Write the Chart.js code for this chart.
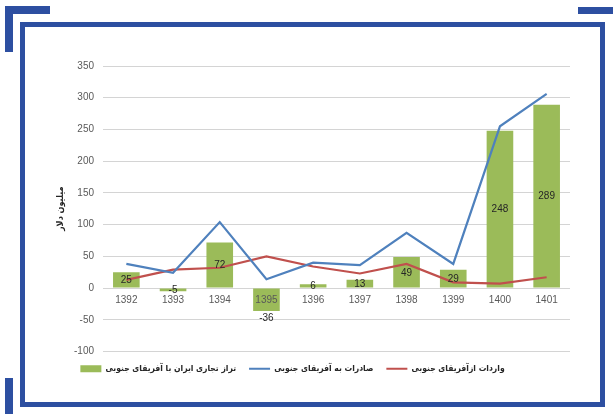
<!DOCTYPE html>
<html>
<head>
<meta charset="utf-8">
<script src="https://cdn.jsdelivr.net/npm/chart.js@4"></script>
<style>
  html, body { margin: 0; padding: 0; background: #ffffff; }
  #page { position: relative; width: 613px; height: 414px; overflow: hidden; background: #fff; }
  .bar { position: absolute; background: #2D4FA1; }
  #frame { position: absolute; left: 20px; top: 22px; width: 575px; height: 375px;
           border: 5px solid #2D4FA1; }
  canvas { position: absolute; left: 0; top: 0; }
</style>
</head>
<body>
<div id="page">
  <div id="frame"></div>
  <div class="bar" style="left:5px;top:6px;width:45px;height:8px"></div>
  <div class="bar" style="left:5px;top:6px;width:8px;height:46px"></div>
  <div class="bar" style="left:578px;top:7px;width:35px;height:7px"></div>
  <div class="bar" style="left:5px;top:378px;width:8px;height:36px"></div>
  <canvas id="chart" width="613" height="414"></canvas>
</div>
<script>
// Solar years (Iranian calendar)
const years = ['1392', '1393', '1394', '1395', '1396', '1397', '1398', '1399', '1400', '1401'];
// Trade balance of Iran with South Africa (million USD)
const tradeBalance = [25, -5, 72, -36, 6, 13, 49, 29, 248, 289];
// Exports to South Africa (million USD)
const exportsToSA = [38, 24, 104, 14, 40, 36, 87, 38, 255, 306];
// Imports from South Africa (million USD)
const importsFromSA = [13, 29, 32, 50, 34, 23, 38, 9, 7, 17];

const seriesNames = ['تراز تجاری ایران با آفریقای جنوبی', 'صادرات به آفریقای جنوبی', 'واردات ازآفریقای جنوبی'];
const yTitle = 'میلیون دلار';

const GREEN = '#9BBB59', BLUE = '#4F81BD', RED = '#C0504D';
const TICK_FONT = { family: "'Liberation Sans', Arial, sans-serif", size: 10 };
const FA_FONT = "'DejaVu Sans Condensed', 'DejaVu Sans', sans-serif";

// Value labels centred in each bar; long negative bars get theirs beneath the bar end
const barLabels = {
  id: 'barLabels',
  afterDatasetsDraw(chart) {
    const ctx = chart.ctx;
    const meta = chart.getDatasetMeta(0);
    ctx.save();
    ctx.direction = 'ltr';
    ctx.font = "10px 'Liberation Sans', Arial, sans-serif";
    ctx.fillStyle = '#262626';
    ctx.textAlign = 'center';
    meta.data.forEach((el, i) => {
      const v = tradeBalance[i];
      const len = Math.abs(el.base - el.y);
      if (v < 0 && len > 15) {
        ctx.textBaseline = 'top';
        ctx.fillText(String(v), el.x, el.y + 2);
      } else {
        ctx.textBaseline = 'middle';
        ctx.fillText(String(v), el.x, (el.y + el.base) / 2 + 0.5);
      }
    });
    ctx.restore();
  }
};

new Chart(document.getElementById('chart'), {
  data: {
    labels: years,
    datasets: [
      { type: 'bar', label: seriesNames[0], data: tradeBalance, backgroundColor: GREEN,
        barPercentage: 0.57, categoryPercentage: 1, order: 3 },
      { type: 'line', label: seriesNames[1], data: exportsToSA, borderColor: BLUE, backgroundColor: BLUE,
        borderWidth: 2.2, pointRadius: 0, tension: 0, order: 1 },
      { type: 'line', label: seriesNames[2], data: importsFromSA, borderColor: RED, backgroundColor: RED,
        borderWidth: 2.2, pointRadius: 0, tension: 0, order: 2 }
    ]
  },
  options: {
    responsive: false,
    animation: false,
    // left padding kept small so the legend row sits left of the plot centre
    layout: { padding: { left: 15, right: 43, top: 66, bottom: 31 } },
    scales: {
      x: {
        position: { y: 0 },
        grid: { display: false, drawTicks: false },
        border: { display: false },
        // year labels drawn above the bars
        ticks: { color: '#595959', font: TICK_FONT, padding: 6, maxRotation: 0, z: 1 }
      },
      y: {
        min: -100, max: 350,
        ticks: { stepSize: 50, color: '#595959', font: TICK_FONT, padding: 9 },
        grid: { color: '#D4D4D4', lineWidth: 1, drawTicks: false },
        border: { display: false },
        title: { display: true, text: yTitle, color: '#262626', padding: { top: 40, bottom: 0 },
                 font: { family: FA_FONT, size: 9, weight: 'bold' } },
        afterFit(scale) { scale.width = 88; }
      }
    },
    plugins: {
      tooltip: { enabled: false },
      legend: {
        position: 'bottom',
        labels: {
          color: '#262626',
          font: { family: FA_FONT, size: 8.5, weight: 'bold' },
          usePointStyle: true,
          pointStyleWidth: 21,
          boxHeight: 7,
          padding: 13,
          sort: (a, b) => a.datasetIndex - b.datasetIndex,
          generateLabels(chart) {
            const items = Chart.defaults.plugins.legend.labels.generateLabels(chart);
            items.forEach(it => {
              const ds = chart.data.datasets[it.datasetIndex];
              if (ds.type === 'line') {
                it.pointStyle = 'line'; it.lineWidth = 2.2; it.strokeStyle = ds.borderColor;
              } else {
                it.pointStyle = 'rect'; it.lineWidth = 0; it.fillStyle = ds.backgroundColor; it.strokeStyle = ds.backgroundColor;
              }
            });
            return items;
          }
        }
      }
    }
  },
  plugins: [barLabels]
});
</script>
</body>
</html>
